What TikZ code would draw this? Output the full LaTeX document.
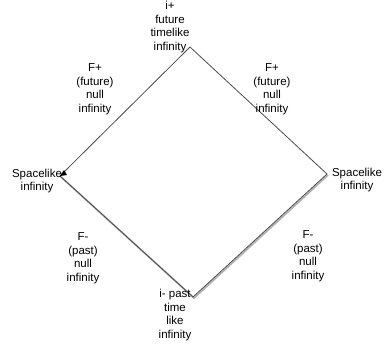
\documentclass[tikz,border=0pt]{standalone}
\usepackage{fontspec}
\setmainfont{Liberation Sans}
\usetikzlibrary{arrows.meta}
\begin{document}
\begin{tikzpicture}[x=1pt,y=-1pt,
  lbl/.style={align=center,inner sep=0pt,font=\fontsize{11.5}{13.5}\selectfont},
  edge/.style={draw=black!70,line width=0.8pt},
  shadowline/.style={draw=black!30,line width=1.8pt}]
\useasboundingbox[fill=white] (0,0) rectangle (384,349);
\coordinate (T) at (190,47);
\coordinate (L) at (60,176);
\coordinate (R) at (327,174);
\coordinate (B) at (193,297);
\draw[shadowline] ([shift={(1,1)}]L) -- ([shift={(1,1)}]B) -- ([shift={(1,1)}]R);
\draw[edge] (T) -- (L);
\draw[edge] (L) -- (B);
\draw[edge] (B) -- (R);
\draw[edge] (R) -- (T);
\fill[black] (L) -- ++(4,-6) -- ++(3,5) -- cycle;
\node[lbl] (itop) at (170,27) {i+\\future\\timelike\\infinity};
\node[lbl] (sl) at (37,181) {Spacelike\\infinity};
\node[lbl] (sr) at (357,180) {Spacelike\\infinity};
\node[lbl] (fpl) at (95,89) {F+\\(future)\\null\\infinity};
\node[lbl] (fpr) at (272,89) {F+\\(future)\\null\\infinity};
\node[lbl] (fml) at (83,258) {F-\\(past)\\null\\infinity};
\node[lbl] (fmr) at (308,256) {F-\\(past)\\null\\infinity};
\node[lbl] (ibot) at (175,315) {i- past\\time\\like\\infinity};
\end{tikzpicture}
\end{document}
